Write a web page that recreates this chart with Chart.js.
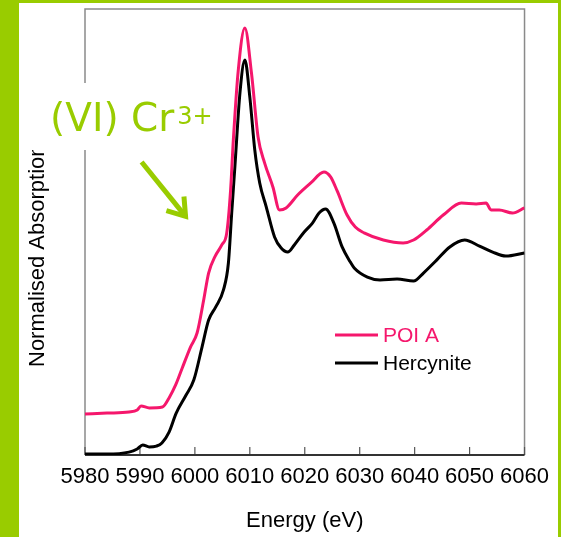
<!DOCTYPE html>
<html>
<head>
<meta charset="utf-8">
<script src="https://cdn.jsdelivr.net/npm/chart.js@4.4.1/dist/chart.umd.min.js"></script>
<style>
  html, body { margin: 0; padding: 0; background: #99cc00; width: 561px; height: 537px; overflow: hidden; }
  #panel { position: absolute; left: 19px; top: 3px; width: 539px; height: 534px; background: #fff; }
  canvas { display: block; }
</style>
</head>
<body>
<div id="panel"><canvas id="xanes" width="539" height="534"></canvas></div>
<script>
// Cr K-edge XANES (y in arbitrary normalised units, curves offset)
const xTicks = [5980, 5990, 6000, 6010, 6020, 6030, 6040, 6050, 6060];

const poiEnergy = [5980, 5984, 5988, 5989.5, 5990.2, 5991.7, 5994.1, 5995.3, 5996.5, 5997.7,
  5999.2, 6000.4, 6001.6, 6002.5, 6003.7, 6004.9, 6005.8, 6006.5, 6007.0, 6007.9,
  6009.1, 6010.3, 6011.5, 6012.7, 6014.2, 6015.4, 6016.6, 6018.7, 6021.1, 6023.5,
  6024.7, 6025.9, 6027.7, 6029.2, 6030.8, 6034.3, 6037.9, 6039.8, 6042.2, 6045.2,
  6048.5, 6051.2, 6053.0, 6053.9, 6055.4, 6057.8, 6060];
const poiValues = [0.184, 0.188, 0.193, 0.202, 0.220, 0.211, 0.215, 0.256, 0.314, 0.390,
  0.484, 0.547, 0.695, 0.816, 0.892, 0.942, 0.996, 1.188, 1.413, 1.726,
  1.915, 1.713, 1.426, 1.309, 1.202, 1.099, 1.108, 1.166, 1.220, 1.269,
  1.247, 1.184, 1.076, 1.022, 0.996, 0.964, 0.951, 0.964, 1.009, 1.076,
  1.130, 1.126, 1.130, 1.099, 1.099, 1.085, 1.108];

const hercEnergy = [5980, 5984, 5988, 5989.5, 5990.5, 5991.7, 5993.0, 5994.0, 5995.3, 5996.6,
  5998.4, 5999.8, 6001.3, 6002.5, 6003.8, 6005.2, 6006.1, 6006.7, 6007.3, 6008.2,
  6009.1, 6010.0, 6010.9, 6011.8, 6013.0, 6014.5, 6015.7, 6016.9, 6018.1, 6019.9,
  6021.4, 6022.6, 6023.8, 6025.3, 6026.8, 6028.3, 6029.0, 6031.4, 6033.7, 6036.8,
  6039.8, 6041.6, 6044.0, 6046.4, 6049.1, 6051.8, 6054.2, 6056.6, 6060];
const hercValues = [0.004, 0.004, 0.013, 0.027, 0.045, 0.036, 0.040, 0.054, 0.103, 0.188,
  0.269, 0.336, 0.484, 0.605, 0.664, 0.740, 0.861, 1.085, 1.300, 1.623,
  1.771, 1.605, 1.368, 1.220, 1.112, 0.978, 0.928, 0.910, 0.942, 1.000,
  1.040, 1.085, 1.103, 1.040, 0.933, 0.865, 0.839, 0.798, 0.785, 0.789,
  0.780, 0.816, 0.874, 0.933, 0.964, 0.937, 0.910, 0.892, 0.906];

const seriesNames = ['POI A', 'Hercynite'];
const seriesColors = ['#f5176c', '#000000'];

const green = '#99cc00';
const font = '"Liberation Sans", Arial, sans-serif';

const toPoints = (xs, ys) => xs.map((x, i) => ({ x: x, y: ys[i] }));

// frame + inward tick marks
const framePlugin = {
    id: 'frame',
    beforeDatasetsDraw(chart) {
        const { ctx, chartArea: a, scales } = chart;
        ctx.save();
        ctx.strokeStyle = '#8a8a8a';
        ctx.lineWidth = 1.5;
        ctx.beginPath();
        ctx.moveTo(a.left, a.bottom);
        ctx.lineTo(a.left, a.top);
        ctx.lineTo(a.right, a.top);
        ctx.lineTo(a.right, a.bottom);
        ctx.stroke();
        ctx.strokeStyle = '#555';
        ctx.lineWidth = 1.2;
        xTicks.forEach((t) => {
            const px = scales.x.getPixelForValue(t);
            ctx.beginPath();
            ctx.moveTo(px, a.bottom);
            ctx.lineTo(px, a.bottom - 8);
            ctx.stroke();
        });
        ctx.strokeStyle = '#333';
        ctx.lineWidth = 2;
        ctx.beginPath();
        ctx.moveTo(a.left, a.bottom);
        ctx.lineTo(a.right, a.bottom);
        ctx.stroke();
        ctx.restore();
    }
};

// y title, legend, and the green label with arrow
const overlayPlugin = {
    id: 'overlay',
    afterDraw(chart) {
        const { ctx, chartArea: a, scales } = chart;
        ctx.save();

        // y axis title
        ctx.save();
        ctx.translate(a.left - 47, a.bottom - 88);
        ctx.rotate(-Math.PI / 2);
        ctx.fillStyle = '#000';
        ctx.font = '22px ' + font;
        ctx.textAlign = 'left';
        ctx.textBaseline = 'middle';
        ctx.fillText('Normalised Absorption', 0, 0);
        ctx.restore();

        // legend
        ctx.font = '21px ' + font;
        ctx.textBaseline = 'middle';
        ctx.textAlign = 'left';
        chart.data.datasets.forEach((ds, i) => {
            const y = a.top + 326 + i * 28;
            ctx.strokeStyle = ds.borderColor;
            ctx.lineWidth = 3;
            ctx.beginPath();
            ctx.moveTo(a.left + 250, y);
            ctx.lineTo(a.left + 293, y);
            ctx.stroke();
            ctx.fillStyle = ds.borderColor;
            ctx.fillText(ds.label, a.left + 298, y + 1);
        });

        // white box behind the label
        ctx.fillStyle = '#fff';
        ctx.fillRect(6, 80, 198, 67);

        ctx.fillStyle = green;
        ctx.textBaseline = 'alphabetic';
        ctx.font = '39px "DejaVu Sans", Verdana, sans-serif';
        const main = '(VI) Cr';
        ctx.fillText(main, 31, 128);
        const w = ctx.measureText(main).width;
        ctx.font = '24px "DejaVu Sans", Verdana, sans-serif';
        ctx.fillText('3+', 31 + w + 3, 121);

        // arrow in data coordinates
        const x0 = scales.x.getPixelForValue(5990.3), y0 = scales.y.getPixelForValue(1.314);
        const x1 = scales.x.getPixelForValue(5998.3), y1 = scales.y.getPixelForValue(1.07);
        ctx.strokeStyle = green;
        ctx.lineWidth = 5;
        ctx.lineCap = 'butt';
        ctx.lineJoin = 'miter';
        ctx.beginPath();
        ctx.moveTo(x0, y0);
        ctx.lineTo(x1, y1);
        ctx.stroke();
        const ang = Math.atan2(y1 - y0, x1 - x0);
        const hl = 20;
        ctx.beginPath();
        ctx.moveTo(x1 + hl * Math.cos(ang + Math.PI - 0.6), y1 + hl * Math.sin(ang + Math.PI - 0.6));
        ctx.lineTo(x1, y1);
        ctx.lineTo(x1 + hl * Math.cos(ang + Math.PI + 0.6), y1 + hl * Math.sin(ang + Math.PI + 0.6));
        ctx.stroke();

        ctx.restore();
    }
};

new Chart(document.getElementById('xanes'), {
    type: 'line',
    plugins: [framePlugin, overlayPlugin],
    data: {
        datasets: [
            {
                label: seriesNames[0],
                data: toPoints(poiEnergy, poiValues),
                borderColor: seriesColors[0],
                borderWidth: 3,
                pointRadius: 0,
                cubicInterpolationMode: 'monotone',
                fill: false
            },
            {
                label: seriesNames[1],
                data: toPoints(hercEnergy, hercValues),
                borderColor: seriesColors[1],
                borderWidth: 3,
                pointRadius: 0,
                cubicInterpolationMode: 'monotone',
                fill: false
            }
        ]
    },
    options: {
        responsive: false,
        animation: false,
        layout: { padding: { left: 0, top: 6, right: 29, bottom: 0 } },
        plugins: {
            legend: { display: false },
            tooltip: { enabled: false }
        },
        scales: {
            x: {
                type: 'linear',
                min: 5980,
                max: 6060,
                afterBuildTicks: (scale) => { scale.ticks = xTicks.map((v) => ({ value: v })); },
                afterFit: (scale) => { scale.height = 82; },
                grid: { display: false, drawTicks: false },
                border: { display: false },
                ticks: {
                    color: '#000',
                    padding: 9,
                    maxRotation: 0,
                    autoSkip: false,
                    font: { family: font, size: 22 },
                    callback: (v) => String(v)
                },
                title: {
                    display: true,
                    text: 'Energy (eV)',
                    color: '#000',
                    padding: { top: 0, bottom: 3 },
                    font: { family: font, size: 22 }
                }
            },
            y: {
                min: 0,
                max: 2,
                afterFit: (scale) => { scale.width = 66; },
                grid: { display: false, drawTicks: false },
                border: { display: false },
                ticks: { display: false }
            }
        }
    }
});
</script>
</body>
</html>
